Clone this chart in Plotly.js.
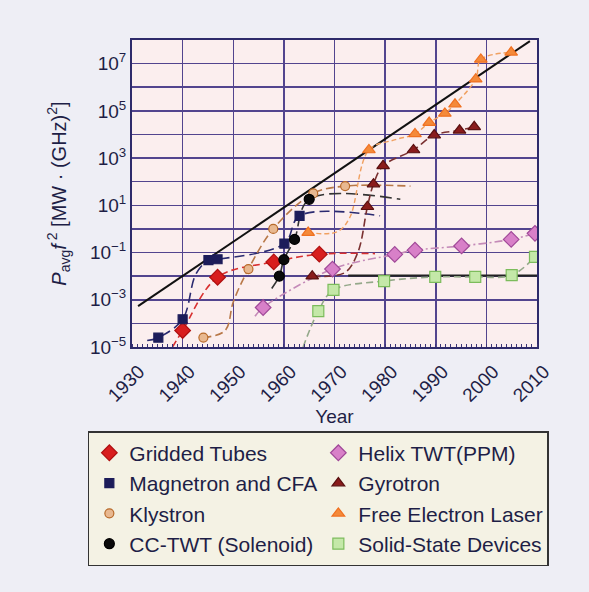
<!DOCTYPE html>
<html><head><meta charset="utf-8">
<script src="https://cdn.plot.ly/plotly-3.0.1.min.js"></script>
<style>html,body{margin:0;padding:0;background:#eeeef5;}</style>
</head><body><div id="chart" style="width:589px;height:592px;"></div>
<script>
// ---- data ----
const trendYears = [1931.2, 2008.6];
const trendVals = [5.4e-4, 9.0e7];
const refYears = [1972.7, 2010];
const refVals = [0.0105, 0.0105];

const griddedYears = [1940.0, 1946.9, 1958.0, 1967.0];
const griddedVals = [5e-5, 0.009, 0.04, 0.085];
const griddedPathYears = [1938.0, 1940.0, 1946.9, 1958.0, 1967.0, 1978.0];
const griddedPathVals = [1e-5, 5e-5, 0.009, 0.04, 0.085, 0.09];

const magnetronYears = [1935.2, 1940.0, 1945.1, 1946.9, 1960.1, 1963.1];
const magnetronVals = [2.5e-5, 1.5e-4, 0.048, 0.052, 0.24, 3.6];
const magnetronPathYears = [1933.0, 1935.2, 1940.0, 1942.6, 1945.1, 1946.9, 1960.1, 1963.1, 1979.0];
const magnetronPathVals = [1.9e-5, 2.5e-5, 1.5e-4, 0.012, 0.048, 0.052, 0.24, 3.6, 3.6];

const klystronYears = [1944.1, 1953.0, 1957.9, 1965.8, 1972.1];
const klystronVals = [2.5e-5, 0.02, 1.0, 32, 65];
const klystronPathYears = [1944.1, 1948.4, 1950.0, 1953.0, 1957.9, 1965.8, 1972.1, 1985.0];
const klystronPathVals = [2.5e-5, 5e-5, 8e-4, 0.02, 1.0, 32, 65, 65];

const ccTwtYears = [1959.1, 1960.0, 1962.1, 1965.0];
const ccTwtVals = [0.01, 0.05, 0.36, 18];
const ccTwtPathYears = [1957.6, 1959.1, 1960.0, 1962.1, 1965.0, 1983.0];
const ccTwtPathVals = [0.003, 0.01, 0.05, 0.36, 18, 18];

const helixYears = [1955.9, 1969.6, 1981.9, 1985.9, 1995.1, 2004.9, 2009.6];
const helixVals = [4.7e-4, 0.02, 0.083, 0.126, 0.19, 0.36, 0.65];
const helixPathYears = [1954.3, 1955.9, 1969.6, 1981.9, 1985.9, 1995.1, 2004.9, 2009.6];
const helixPathVals = [2e-4, 4.7e-4, 0.02, 0.083, 0.126, 0.19, 0.36, 0.65];

const gyrotronYears = [1965.6, 1976.5, 1977.7, 1979.6, 1985.6, 1989.7, 1994.7, 1997.6];
const gyrotronVals = [0.01, 8.7, 79, 470, 2200, 9400, 15000, 21000];
const gyrotronPathYears = [1965.6, 1972.0, 1974.6, 1976.5, 1977.7, 1979.6, 1985.6, 1989.7, 1994.7, 1997.6];
const gyrotronPathVals = [0.01, 0.014, 0.1, 8.7, 79, 470, 2200, 9400, 15000, 21000];

const felYears = [1964.8, 1976.8, 1985.9, 1988.7, 1991.8, 1993.8, 1997.9, 1998.9, 2004.9];
const felVals = [0.7, 2200, 10500, 32000, 78000, 1.9e5, 2.2e6, 1.5e7, 3.0e7];
const felPathYears = [1964.8, 1970.5, 1973.0, 1976.8, 1982.0, 1985.9, 1988.7, 1991.8, 1993.8, 1997.9, 1998.9, 2004.9];
const felPathVals = [0.7, 0.75, 3, 2200, 6000, 10500, 32000, 78000, 1.9e5, 2.2e6, 1.5e7, 3.0e7];

const solidYears = [1966.8, 1969.8, 1979.8, 1989.9, 1997.8, 2005.0, 2009.6];
const solidVals = [3.3e-4, 2.6e-3, 6.2e-3, 0.0093, 0.0093, 0.011, 0.066];
const solidPathYears = [1963.8, 1966.8, 1969.8, 1979.8, 1989.9, 1997.8, 2005.0, 2009.6];
const solidPathVals = [1e-5, 3.3e-4, 2.6e-3, 6.2e-3, 0.0093, 0.0093, 0.011, 0.066];

const xTickVals = [1930, 1940, 1950, 1960, 1970, 1980, 1990, 2000, 2010];
const xTickText = ['1930', '1940', '1950', '1960', '1970', '1980', '1990', '2000', '2010'];
const yTickVals = [1e-5, 1e-3, 1e-1, 1e1, 1e3, 1e5, 1e7];
const yTickText = ['10<sup>\u22125</sup>', '10<sup>\u22123</sup>', '10<sup>\u22121</sup>', '10<sup>1</sup>', '10<sup>3</sup>', '10<sup>5</sup>', '10<sup>7</sup>'];
const yGridVals = [1e-4, 1e-2, 1, 1e2, 1e4, 1e6];

const seriesNames = ['Gridded Tubes', 'Helix TWT(PPM)', 'Magnetron and CFA', 'Gyrotron',
  'Klystron', 'Free Electron Laser', 'CC-TWT (Solenoid)', 'Solid-State Devices'];

// ---- traces ----
function pathTrace(xs, ys, color, dash, width) {
  return {x: xs, y: ys, type: 'scatter', mode: 'lines', showlegend: false, hoverinfo: 'skip',
    line: {color: color, dash: dash, width: width || 1.6, shape: 'spline', smoothing: 1.0}};
}
function markTrace(name, xs, ys, symbol, fill, edge, size) {
  return {x: xs, y: ys, type: 'scatter', mode: 'markers', name: name,
    marker: {symbol: symbol, color: fill, size: size, line: {color: edge, width: 1.2}}};
}

const traces = [
  {x: trendYears, y: trendVals, type: 'scatter', mode: 'lines', showlegend: false,
   line: {color: '#111111', width: 2}},
  {x: refYears, y: refVals, type: 'scatter', mode: 'lines', showlegend: false,
   line: {color: '#222222', width: 2.2}},
  pathTrace(griddedPathYears, griddedPathVals, '#d83030', '7px,4px'),
  pathTrace(magnetronPathYears, magnetronPathVals, '#2a2a70', '10px,5px'),
  pathTrace(klystronPathYears, klystronPathVals, '#b87848', '8px,4px'),
  pathTrace(ccTwtPathYears, ccTwtPathVals, '#333333', '12px,5px'),
  pathTrace(helixPathYears, helixPathVals, '#c48ab8', '8px,3px,2px,3px'),
  pathTrace(gyrotronPathYears, gyrotronPathVals, '#7a3030', '8px,4px'),
  pathTrace(felPathYears, felPathVals, '#f0a060', '5px,3px', 1.4),
  pathTrace(solidPathYears, solidPathVals, '#94a88a', '7px,4px'),
  markTrace(seriesNames[0], griddedYears, griddedVals, 'diamond', '#d81e1e', '#b01010', 12),
  markTrace(seriesNames[1], helixYears, helixVals, 'diamond', '#d880c8', '#a04898', 12),
  markTrace(seriesNames[2], magnetronYears, magnetronVals, 'square', '#1c1c5a', '#1c1c5a', 9),
  markTrace(seriesNames[3], gyrotronYears, gyrotronVals, 'triangle-up', '#8a1c1c', '#5a1010', 11),
  markTrace(seriesNames[4], klystronYears, klystronVals, 'circle', '#e8b890', '#b86a2a', 9),
  markTrace(seriesNames[5], felYears, felVals, 'triangle-up', '#f48a3a', '#f07020', 11),
  markTrace(seriesNames[6], ccTwtYears, ccTwtVals, 'circle', '#0a0a0a', '#000000', 10),
  markTrace(seriesNames[7], solidYears, solidVals, 'square', '#c4e8a8', '#7cbc5c', 11)
];

const gridColor = '#52448e';
const textColor = '#1e1e46';
const fontFam = '"Liberation Sans", Arial, sans-serif';

const layout = {
  width: 589, height: 592,
  margin: {l: 132, r: 52, t: 40, b: 245, autoexpand: false},
  paper_bgcolor: '#eeeef5',
  plot_bgcolor: '#fbeeee',
  font: {family: fontFam, color: textColor, size: 17},
  showlegend: true,
  xaxis: {
    type: 'linear', range: [1930, 2010],
    tickvals: xTickVals, ticktext: xTickText, tickangle: -45,
    tickfont: {size: 19, color: textColor},
    ticklabelshift: 7, ticklabelstandoff: 4,
    showgrid: true, gridcolor: gridColor, gridwidth: 1.5,
    showline: true, linecolor: '#2e2a6a', linewidth: 2, mirror: true,
    ticks: '', zeroline: false,
    minor: {ticks: 'inside', ticklen: 3, tickcolor: '#3a3478', dtick: 1, showgrid: false},
    title: {text: 'Year', font: {size: 19, color: textColor}, standoff: 4}
  },
  yaxis: {
    type: 'log', range: [-5, 8],
    tickvals: yTickVals, ticktext: yTickText,
    tickfont: {size: 19, color: textColor},
    showgrid: true, gridcolor: gridColor, gridwidth: 1.5,
    showline: true, linecolor: '#2e2a6a', linewidth: 2, mirror: true,
    ticks: '', zeroline: false,
    minor: {tickvals: yGridVals, ticks: '', showgrid: true, gridcolor: gridColor, gridwidth: 1.5},
    title: {text: '<i>P</i><sub>avg</sub><i>f</i><sup> 2</sup> [MW \u00b7 (GHz)<sup>2</sup>]',
            font: {size: 20, color: textColor}, standoff: 18}
  },
  legend: {
    orientation: 'h', x: -0.109, xanchor: 'left', y: -0.274, yanchor: 'top',
    bgcolor: '#f4f2e4', bordercolor: '#333333', borderwidth: 1.5,
    font: {size: 21, color: textColor, family: fontFam},
    entrywidth: 184, entrywidthmode: 'pixels',
    traceorder: 'normal', itemclick: false
  }
};

Plotly.newPlot('chart', traces, layout, {displayModeBar: false, staticPlot: true});
</script>
</body></html>
